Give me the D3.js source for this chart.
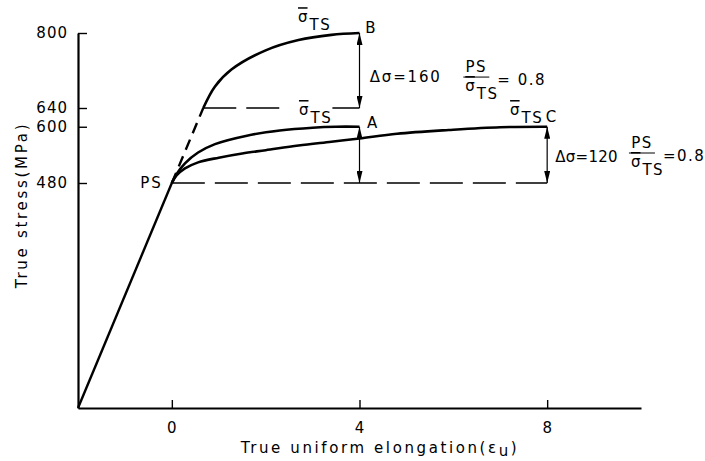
<!DOCTYPE html>
<html>
<head>
<meta charset="utf-8">
<script src="https://cdn.jsdelivr.net/npm/d3@7"></script>
<style>
  body { margin: 0; background: #fff; }
  svg { display: block; font-family: "DejaVu Sans", sans-serif; }
</style>
</head>
<body>
<div id="chart"></div>
<script>
const W = 705;
const H = 461;
const margin = { top: 33, right: 64, bottom: 53, left: 78 };

// axis ticks
const xTicks = [0, 4, 8];
const yTicks = [480, 600, 640, 800];

// curves (true uniform elongation, true stress MPa)
const elastic = [[-2, 0], [0, 480]];
const curveBDash = [[0, 480], [0.67, 640]];
const curveB = [[0.67, 640], [0.92, 686], [1.27, 722], [2.0, 763], [2.7, 785], [3.4, 796], [4, 800]];
const curveA = [[0, 480], [0.1, 499], [0.28, 522], [0.56, 545], [0.92, 563], [1.6, 581], [2.3, 592], [3.0, 598], [3.5, 600], [4, 600]];
const curveC = [[0, 480], [0.1, 496], [0.28, 511], [0.56, 524], [1.0, 534], [1.5, 543], [2.0, 550], [2.7, 560], [3.4, 568], [4.0, 575], [4.8, 585], [5.9, 593], [7.0, 599], [8, 600]];

// dashed reference levels and the delta-sigma arrows
const dashLevels = [{ x0: 0.67, x1: 4, y: 640 }, { x0: 0, x1: 8, y: 480 }];
const deltaArrows = [{ x: 4, y0: 640, y1: 800 }, { x: 4, y0: 480, y1: 600 }, { x: 8, y0: 480, y1: 600 }];

// labels: sigma-bar TS markers, point letters, delta texts, ratio fractions
const sigmaLabels = [[2.69, 823], [2.71, 625], [7.21, 625]];
const pointLabels = [["B", 4.12, 800], ["A", 4.16, 597], ["C", 7.97, 610], ["PS", -0.19, 469]];
const deltaTexts = [["\u0394\u03c3=160", 4.22, 695], ["\u0394\u03c3=120", 8.17, 525]];
const ratios = [[6.49, 706, "= 0.8"], [10.02, 544, "=0.8"]];

const x = d3.scaleLinear().domain([-2, 10]).range([margin.left, W - margin.right]);
const y = d3.scaleLinear().domain([0, 800]).range([H - margin.bottom, margin.top]);

const svg = d3.select("#chart").append("svg").attr("width", W).attr("height", H);

const defs = svg.append("defs");
defs.append("marker")
  .attr("id", "arrow")
  .attr("viewBox", "0 0 12 6")
  .attr("refX", 12).attr("refY", 3)
  .attr("markerWidth", 12).attr("markerHeight", 6)
  .attr("markerUnits", "userSpaceOnUse")
  .attr("orient", "auto-start-reverse")
  .append("path").attr("d", "M0,0L12,3L0,6Z").attr("fill", "#000");

// axes
const xAxis = svg.append("g")
  .attr("transform", `translate(0,${y(0)})`)
  .call(d3.axisBottom(x).tickValues(xTicks).tickSizeInner(-8).tickSizeOuter(0).tickPadding(14));
const yAxis = svg.append("g")
  .attr("transform", `translate(${x(-2)},0)`)
  .call(d3.axisLeft(y).tickValues(yTicks).tickSizeInner(-9).tickSizeOuter(0).tickPadding(10));

[xAxis, yAxis].forEach(g => {
  g.attr("font-family", null).attr("font-size", null);
  g.select(".domain").attr("stroke", "#000").attr("stroke-width", 2.2);
  g.selectAll(".tick line").attr("stroke", "#000").attr("stroke-width", 1.4);
  g.selectAll(".tick text").attr("fill", "#000").style("font-size", "15px").style("letter-spacing", "1px");
});

// axis titles
const xTitle = svg.append("text")
  .attr("x", 380).attr("y", 453)
  .attr("text-anchor", "middle")
  .style("font-size", "15px").style("letter-spacing", "2.6px")
  .text("True uniform elongation(\u03b5");
xTitle.append("tspan").attr("dy", 3).text("u");
xTitle.append("tspan").attr("dy", -3).text(")");

svg.append("text")
  .attr("transform", "translate(27,205) rotate(-90)")
  .attr("text-anchor", "middle")
  .style("font-size", "15px").style("letter-spacing", "2.7px")
  .text("True stress(MPa)");

// dashed levels
svg.selectAll(".level")
  .data(dashLevels)
  .join("line")
  .attr("class", "level")
  .attr("x1", d => x(d.x0)).attr("x2", d => x(d.x1))
  .attr("y1", d => y(d.y)).attr("y2", d => y(d.y))
  .attr("stroke", "#000").attr("stroke-width", 1.5)
  .attr("stroke-dasharray", "33,10");

// curves
const line = d3.line().x(d => x(d[0])).y(d => y(d[1])).curve(d3.curveCatmullRom.alpha(0.5));

svg.append("path").datum(elastic).attr("d", line)
  .attr("fill", "none").attr("stroke", "#000").attr("stroke-width", 2.4);
svg.append("path").datum(curveBDash).attr("d", line)
  .attr("fill", "none").attr("stroke", "#000").attr("stroke-width", 2.4)
  .attr("stroke-dasharray", "11,7");
[curveB, curveA, curveC].forEach(c => {
  svg.append("path").datum(c).attr("d", line)
    .attr("fill", "none").attr("stroke", "#000").attr("stroke-width", 2.6)
    .attr("stroke-linejoin", "round");
});

// delta arrows
svg.selectAll(".delta")
  .data(deltaArrows)
  .join("line")
  .attr("class", "delta")
  .attr("x1", d => x(d.x)).attr("x2", d => x(d.x))
  .attr("y1", d => y(d.y0)).attr("y2", d => y(d.y1))
  .attr("stroke", "#000").attr("stroke-width", 1.2)
  .attr("marker-start", "url(#arrow)").attr("marker-end", "url(#arrow)");

// sigma-bar TS text
function sigmaTS(sel) {
  sel.append("tspan").style("text-decoration", "overline").text("\u03c3");
  sel.append("tspan").attr("dy", 8).attr("dx", 2).style("letter-spacing", "1.5px").text("TS");
}

sigmaLabels.forEach(([lx, ly]) => {
  const t = svg.append("text")
    .attr("x", x(lx)).attr("y", y(ly))
    .style("font-size", "15px")
    .call(sigmaTS);
  const b = t.node().getBBox();
  // blank the dashed level behind the label
  svg.insert("rect", () => t.node())
    .attr("x", b.x - 14).attr("y", b.y + 4)
    .attr("width", b.width + 14).attr("height", b.height - 6)
    .attr("fill", "#fff");
});

pointLabels.forEach(([s, lx, ly]) => {
  svg.append("text")
    .attr("x", x(lx)).attr("y", y(ly))
    .attr("text-anchor", s === "PS" ? "end" : "start")
    .style("font-size", "15px").style("letter-spacing", "2px")
    .text(s);
});

deltaTexts.forEach(([s, lx, ly], i) => {
  svg.append("text")
    .attr("x", x(lx)).attr("y", y(ly))
    .style("font-size", "15px").style("letter-spacing", i === 0 ? "1.8px" : "0.3px")
    .text(s);
});

// PS / sigma-bar TS fractions
ratios.forEach(([cx, by, rhs]) => {
  const px = x(cx), py = y(by);
  svg.append("text")
    .attr("x", px).attr("y", py - 5)
    .attr("text-anchor", "middle")
    .style("font-size", "15px").style("letter-spacing", "1.5px")
    .text("PS");
  svg.append("line")
    .attr("x1", px - 13).attr("x2", px + 13)
    .attr("y1", py).attr("y2", py)
    .attr("stroke", "#000").attr("stroke-width", 1);
  svg.append("text")
    .attr("x", px - 11).attr("y", py + 14)
    .style("font-size", "15px")
    .call(sigmaTS);
  svg.append("text")
    .attr("x", px + 21).attr("y", py + 8)
    .style("font-size", "15px").style("letter-spacing", "1.5px")
    .text(rhs);
});
</script>
</body>
</html>
